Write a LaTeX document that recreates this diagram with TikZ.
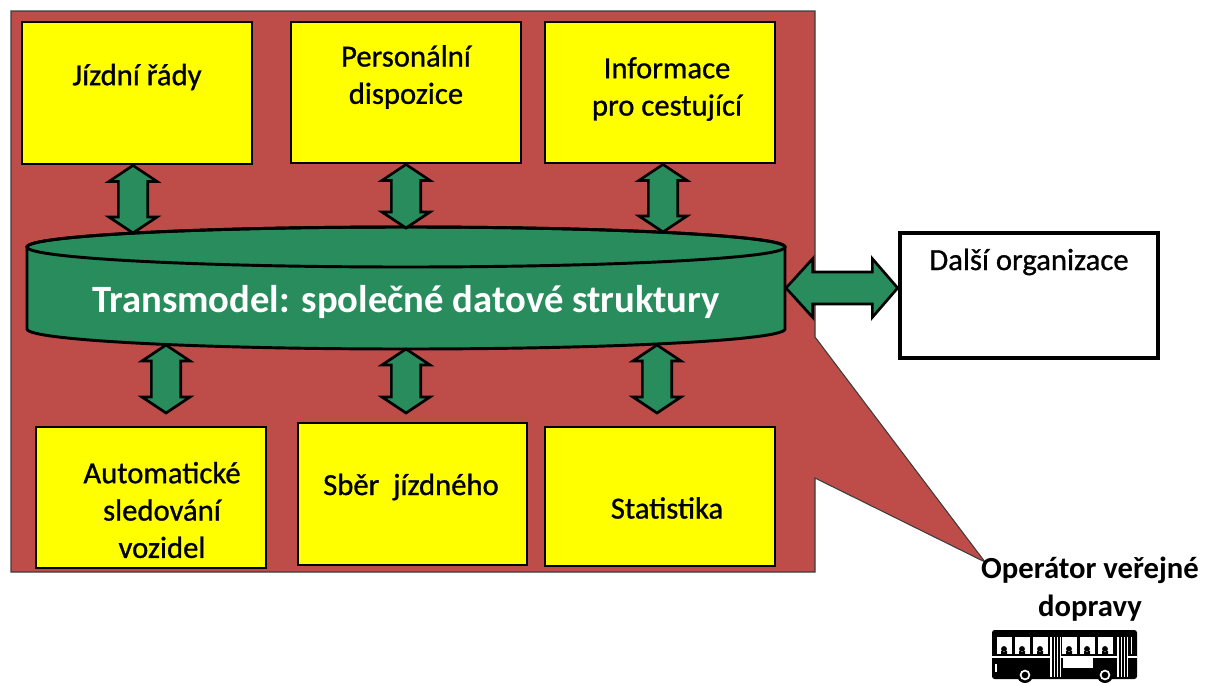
\documentclass[tikz,border=0pt]{standalone}
\usepackage{fontspec}
\setmainfont{Carlito}
\newfontfamily\heavyfont{Carlito}[FakeBold=0.9]
\usetikzlibrary{calc,fit}
\definecolor{bgred}{RGB}{190,76,73}
\definecolor{dbgreen}{RGB}{40,140,92}
\definecolor{boxyellow}{RGB}{255,255,0}
\definecolor{edgegray}{RGB}{60,60,60}
\tikzset{
  yellowbox/.style={draw=black, line width=2.2pt, fill=boxyellow, inner sep=0pt},
  whitebox/.style={draw=black, line width=3.5pt, fill=white, inner sep=0pt},
  boxtext/.style={font=\heavyfont\fontsize{23}{28}\selectfont, align=center, text=black, inner sep=0pt},
  boldtext/.style={font=\bfseries\fontsize{23}{28}\selectfont, align=center, text=black, inner sep=0pt},
  arrowfill/.style={fill=dbgreen, draw=black, line width=2pt, line join=miter},
  cylfill/.style={fill=dbgreen, draw=black, line width=2.2pt},
}
\newcommand\vdarrow[2]{%
  \path[arrowfill] let \p1=(#1), \p2=(#2) in
  (\x1,\y1) -- (\x1+18pt,\y1-12pt) -- (\x1+11pt,\y1-12pt) -- (\x1+11pt,\y2+12pt)
  -- (\x1+18pt,\y2+12pt) -- (\x1,\y2) -- (\x1-18pt,\y2+12pt) -- (\x1-11pt,\y2+12pt)
  -- (\x1-11pt,\y1-12pt) -- (\x1-18pt,\y1-12pt) -- cycle;}
\newcommand\hdarrow[2]{%
  \path[arrowfill] let \p1=(#1), \p2=(#2) in
  (\x1,\y1) -- (\x1+20pt,\y1+22pt) -- (\x1+20pt,\y1+12pt) -- (\x2-19pt,\y1+12pt)
  -- (\x2-19pt,\y1+22pt) -- (\x2,\y1) -- (\x2-19pt,\y1-22pt) -- (\x2-19pt,\y1-12pt)
  -- (\x1+20pt,\y1-12pt) -- (\x1+20pt,\y1-22pt) -- cycle;}
\begin{document}
\begin{tikzpicture}[x=0.75pt,y=-0.75pt]
\useasboundingbox (0,0) rectangle (1210,682);
% background with callout
\path[fill=bgred, draw=edgegray, line width=0.8pt]
  (11,11) -- (815,11) -- (815,337) -- (985,562) -- (815,478) -- (815,572) -- (11,572) -- cycle;
% boxes
\node[yellowbox, fit={(22,22) (252,164)}] (b1) {};
\node[yellowbox, fit={(291,22) (521,163)}] (b2) {};
\node[yellowbox, fit={(545,22) (775,163)}] (b3) {};
\node[yellowbox, fit={(36,427) (266,568)}] (b4) {};
\node[yellowbox, fit={(298,423) (527,565)}] (b5) {};
\node[yellowbox, fit={(545,427) (775,566)}] (b6) {};
\node[boxtext] (t1) at (137,77) {Jízdní řády};
\node[boxtext] (t2) at (406,77) {Personální\\dispozice};
\node[boxtext] (t3) at (667,89) {Informace\\pro cestující};
\node[boxtext] (t4) at (162,510) {Automatické\\sledování\\vozidel};
\node[boxtext] (t5) at (411,487) {Sběr\ \ jízdného};
\node[boxtext] (t6) at (667,508) {Statistika};
% cylinder
\path[cylfill] (27,247) -- (27,329) arc[start angle=180, end angle=360, x radius=284.25pt, y radius=15pt]
  -- (785,247) arc[start angle=0, end angle=180, x radius=284.25pt, y radius=15pt] -- cycle;
\draw[black, line width=2.2pt] (406,247) ellipse [x radius=284.25pt, y radius=15pt];
\node[font=\bfseries\fontsize{29}{34}\selectfont, text=white, inner sep=0pt] (tm) at (406,302)
  {Transmodel: společné datové struktury};
\coordinate (ct1) at (133,233);
\coordinate (ct2) at (406,228);
\coordinate (ct3) at (663,232);
\coordinate (cb1) at (166,345);
\coordinate (cb2) at (406,349);
\coordinate (cb3) at (657,345);
\coordinate (cr) at (786,288);
% other organisation box
\node[whitebox, fit={(900,233) (1158,358)}] (b7) {};
\node[boxtext] (t7) at (1029,262) {Další organizace};
% arrows
\vdarrow{$(b1.south)+(-4,0)$}{ct1}
\vdarrow{b2.south}{ct2}
\vdarrow{$(b3.south)+(3,0)$}{ct3}
\vdarrow{cb1}{166,413}
\vdarrow{cb2}{406,413}
\vdarrow{cb3}{657,413}
\hdarrow{cr}{b7.west |- cr}
% operator label
\node[boldtext] (op) at (1090,589) {Operátor veřejné\\dopravy};
% bus icon
\begin{scope}
  \fill[black, rounded corners=2pt] (992,630) rectangle (1137,679);
  \fill[white] (997,637) rectangle (1132,654);
  \foreach \a/\b in {1012/1015,1030/1033,1048/1062,1077/1080,1095/1098,1113/1131}
    \fill[black] (\a,636) rectangle (\b,655);
  \foreach \px in {1004,1022,1040,1069,1087,1105,1124}
    \fill[black] (\px,649) circle[radius=2.2pt] (\px-3,654) rectangle (\px+3,651);
  \fill[white] (992,656) rectangle (1137,657.5);
  \foreach \dx in {1050,1117} {
    \fill[white] (\dx,637) rectangle (\dx+11,677);
    \foreach \k in {2,5,8} \fill[black] (\dx+\k,637) rectangle (\dx+\k+1.5,677);
  }
  \fill[white] (1063,657) rectangle (1093,668);
  \foreach \wx in {1025,1105} {
    \fill[black] (\wx,675) circle[radius=6pt];
    \fill[white] (\wx,675) circle[radius=4pt];
    \fill[black] (\wx,675) circle[radius=2.5pt];
  }
  \fill[white] (995,664) rectangle (996.5,672);
\end{scope}
\end{tikzpicture}
\end{document}
